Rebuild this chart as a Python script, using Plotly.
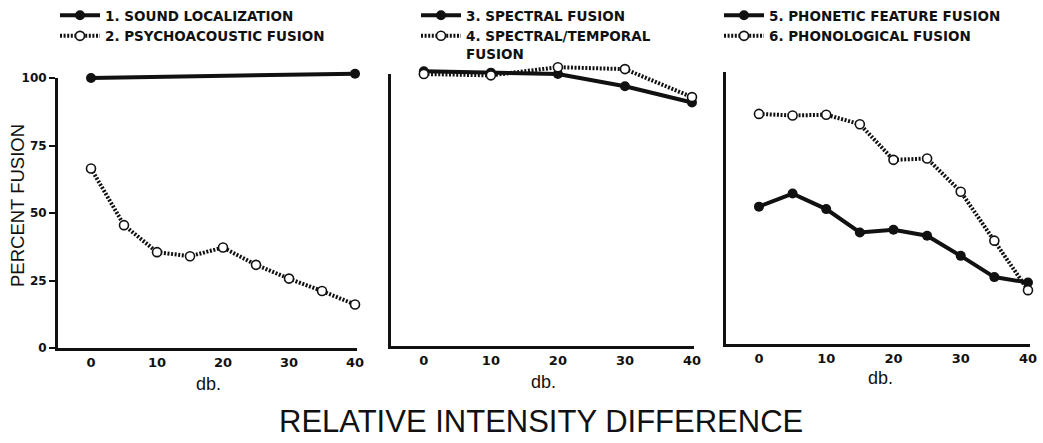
import plotly.graph_objects as go

# ---------------- data ----------------
db_ends = [0, 40]
db_5 = [0, 5, 10, 15, 20, 25, 30, 35, 40]
db_10 = [0, 10, 20, 30, 40]

sound_localization = [100, 101.6]
psychoacoustic_fusion = [66.5, 45.5, 35.5, 34, 37.2, 30.8, 25.7, 21.1, 16.1]

spectral_fusion = [101, 100.5, 100, 95.5, 89.5]
spectral_temporal_fusion = [100, 99.5, 102.5, 101.8, 91.5]

phonetic_feature_fusion = [50.5, 55.3, 49.6, 41, 42, 39.8, 32.4, 24.6, 22.6]
phonological_fusion = [84.6, 84, 84.3, 80.8, 67.7, 68.2, 56, 38, 19.8]

x_tick_vals = [0, 5, 10, 15, 20, 25, 30, 35, 40]
x_tick_text = ["0", "", "10", "", "20", "", "30", "", "40"]
y_tick_vals = [0, 25, 50, 75, 100]
y_tick_text = ["0", "25", "50", "75", "100"]

legend_names = [
    "1. SOUND LOCALIZATION",
    "2. PSYCHOACOUSTIC FUSION",
    "3. SPECTRAL FUSION",
    "4. SPECTRAL/TEMPORAL<br>FUSION",
    "5. PHONETIC FEATURE FUSION",
    "6. PHONOLOGICAL FUSION",
]

# ---------------- styling ----------------
W, H = 1043, 443
BLACK = "#111111"
HATCH = "2px,1.6px"

# pixel geometry of each panel: (x_left, x_right, y_bottom_px, y_top_px, xmin, xmax)
panels = [
    (58, 357, 348, 78, -5.0, 40.3),
    (391, 694, 346, 74, -4.9, 40.3),
    (726, 1030, 344, 72, -4.9, 40.3),
]

fig = go.Figure()

# empty traces so that the display axes (ticks / lines) are drawn
for xa, ya in [("x", "y"), ("x2", "y2"), ("x3", "y3")]:
    fig.add_trace(go.Scatter(x=[], y=[], xaxis=xa, yaxis=ya, showlegend=False,
                             hoverinfo="skip", mode="lines"))


def solid(x, y, name, xa, ya, lg):
    fig.add_trace(go.Scatter(
        x=x, y=y, name=name, xaxis=xa, yaxis=ya, legend=lg,
        mode="lines+markers", cliponaxis=False,
        line=dict(color=BLACK, width=4),
        marker=dict(symbol="circle", size=10, color=BLACK),
    ))


def hatched(x, y, name, xa, ya, lg):
    fig.add_trace(go.Scatter(
        x=x, y=y, name=name, xaxis=xa, yaxis=ya, legend=lg,
        mode="lines+markers", cliponaxis=False,
        line=dict(color=BLACK, width=4, dash=HATCH),
        marker=dict(symbol="circle", size=9, color="white",
                    line=dict(color=BLACK, width=1.6)),
    ))


solid(db_ends, sound_localization, legend_names[0], "x", "y4", "legend")
hatched(db_5, psychoacoustic_fusion, legend_names[1], "x", "y4", "legend")
solid(db_10, spectral_fusion, legend_names[2], "x2", "y5", "legend2")
hatched(db_10, spectral_temporal_fusion, legend_names[3], "x2", "y5", "legend2")
solid(db_5, phonetic_feature_fusion, legend_names[4], "x3", "y6", "legend3")
hatched(db_5, phonological_fusion, legend_names[5], "x3", "y6", "legend3")

layout = dict(
    width=W, height=H,
    margin=dict(l=0, r=0, t=0, b=0, pad=0, autoexpand=False),
    paper_bgcolor="white", plot_bgcolor="white",
    font=dict(family="Liberation Sans, Arial, sans-serif", color=BLACK),
)

tick_font = dict(family="DejaVu Sans, sans-serif", size=13, color=BLACK, weight="bold")
ytick_font = dict(family="DejaVu Sans, sans-serif", size=12, color=BLACK, weight="bold")

for i, (xl, xr, yb, yt, xmin, xmax) in enumerate(panels):
    n = i + 1
    xs = "" if n == 1 else str(n)
    xd = [xl / W, xr / W]
    yd = [1 - yb / H, 1 - yt / H]
    layout["xaxis" + xs] = dict(
        domain=xd, range=[xmin, xmax], anchor="y" + xs,
        showline=True, linewidth=3, linecolor=BLACK,
        showgrid=False, zeroline=False,
        ticks="inside", ticklen=6, tickwidth=2, tickcolor=BLACK,
        tickvals=x_tick_vals, ticktext=x_tick_text,
        tickfont=tick_font, automargin=False, fixedrange=True,
    )
    layout["yaxis" + xs] = dict(
        domain=yd, range=[0, 100], anchor="x" + xs,
        showline=True, linewidth=3, linecolor=BLACK,
        showgrid=False, zeroline=False,
        ticks="outside" if n == 1 else "inside", ticklen=6, tickwidth=2, tickcolor=BLACK,
        tickvals=y_tick_vals if n == 1 else y_tick_vals[1:],
        ticktext=y_tick_text if n == 1 else y_tick_text[1:],
        showticklabels=(n == 1),
        tickfont=ytick_font, automargin=False, fixedrange=True,
    )
    # invisible data axis: same scale, extended top so marks above 100 are not clipped
    layout["yaxis" + str(n + 3)] = dict(
        domain=[yd[0], yd[0] + (yd[1] - yd[0]) * 1.1], range=[0, 110],
        anchor="x" + xs, visible=False, fixedrange=True,
    )

legend_font = dict(family="DejaVu Sans, sans-serif", size=13.5, color=BLACK, weight="bold")
for key, lx in [("legend", 55), ("legend2", 416), ("legend3", 719)]:
    layout[key] = dict(
        x=lx / W, y=1.0, xanchor="left", yanchor="top",
        bgcolor="rgba(0,0,0,0)", borderwidth=0, font=legend_font,
        itemwidth=40, tracegroupgap=0, valign="top",
        itemclick=False, itemdoubleclick=False,
    )

fig.update_layout(**layout)

ann_font = dict(family="Liberation Sans, Arial, sans-serif", color=BLACK)
fig.add_annotation(text="PERCENT FUSION", textangle=-90, x=18 / W, y=1 - 206 / H,
                   xref="paper", yref="paper", xanchor="center", yanchor="middle",
                   showarrow=False, font=dict(size=18.5, **ann_font))
for cx, cy in [(208, 384), (543, 382), (880, 378)]:
    fig.add_annotation(text="db.", x=cx / W, y=1 - cy / H, xref="paper", yref="paper",
                       xanchor="center", yanchor="middle",
                       showarrow=False, font=dict(size=18, **ann_font))
fig.add_annotation(text="RELATIVE INTENSITY DIFFERENCE", x=541 / W, y=1 - 441 / H,
                   xref="paper", yref="paper", xanchor="center", yanchor="bottom",
                   showarrow=False, font=dict(size=31, **ann_font))

fig.write_html(
    "out.html",
    config={"displayModeBar": False},
    post_script="document.body.style.margin='0px';document.body.style.overflow='hidden';",
)
